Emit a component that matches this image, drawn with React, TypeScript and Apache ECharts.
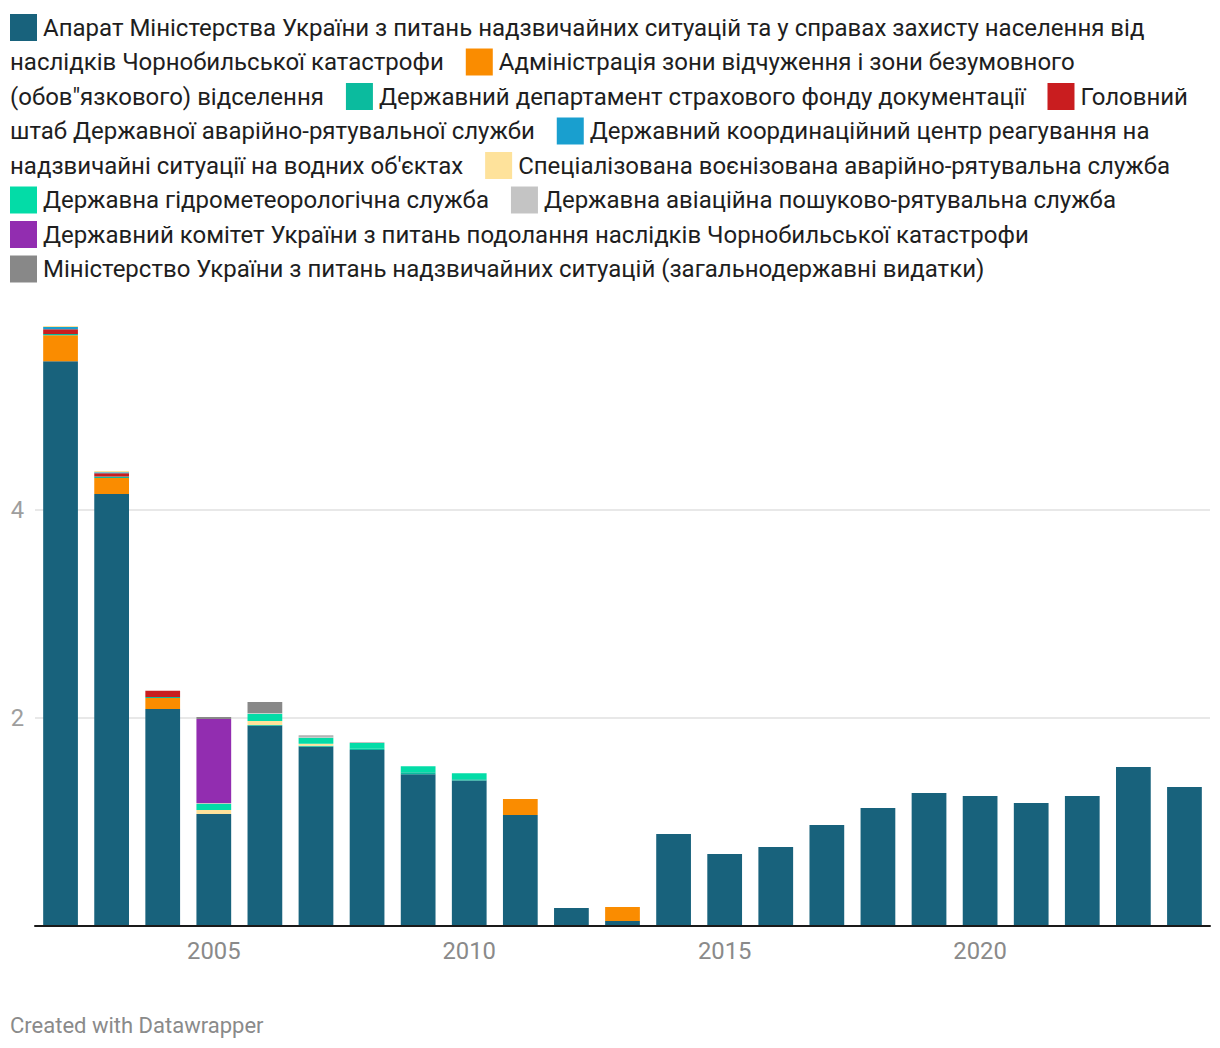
import React, { useEffect, useRef } from "react";
import * as echarts from "echarts";

const years = [
  "2002", "2003", "2004", "2005", "2006", "2007", "2008", "2009", "2010", "2011", "2012", "2013",
  "2014", "2015", "2016", "2017", "2018", "2019", "2020", "2021", "2022", "2023", "2024",
];

const seriesNames = [
  "Апарат Міністерства України з питань надзвичайних ситуацій та у справах захисту населення від наслідків Чорнобильської катастрофи",
  "Адміністрація зони відчуження і зони безумовного (обов\"язкового) відселення",
  "Державний департамент страхового фонду документації",
  "Головний штаб Державної аварійно-рятувальної служби",
  "Державний координаційний центр реагування на надзвичайні ситуації на водних об'єктах",
  "Спеціалізована воєнізована аварійно-рятувальна служба",
  "Державна гідрометеорологічна служба",
  "Державна авіаційна пошуково-рятувальна служба",
  "Державний комітет України з питань подолання наслідків Чорнобильської катастрофи",
  "Міністерство України з питань надзвичайних ситуацій (загальнодержавні видатки)",
];

const seriesColors = [
  "#18627c", "#fa8c00", "#0bbb9e", "#c91d1f", "#199fcf",
  "#fee29b", "#03dca7", "#c4c4c4", "#922db0", "#888888",
];

const apparat = [5.43, 4.154, 2.087, 1.077, 1.926, 1.724, 1.692, 1.46, 1.4, 1.067, 0.173, 0.048, 0.885, 0.692, 0.76, 0.971, 1.135, 1.279, 1.25, 1.183, 1.25, 1.529, 1.337];
const adminZone = [0.25, 0.154, 0.106, 0, 0, 0, 0, 0, 0, 0.154, 0, 0.135, 0, 0, 0, 0, 0, 0, 0, 0, 0, 0, 0];
const insuranceFund = [0.013, 0.013, 0.01, 0, 0.007, 0.01, 0.013, 0.019, 0.01, 0, 0, 0, 0, 0, 0, 0, 0, 0, 0, 0, 0, 0, 0];
const headquarters = [0.045, 0.033, 0.058, 0, 0, 0, 0, 0, 0, 0, 0, 0, 0, 0, 0, 0, 0, 0, 0, 0, 0, 0, 0];
const waterCenter = [0.022, 0.01, 0, 0, 0, 0, 0, 0, 0, 0, 0, 0, 0, 0, 0, 0, 0, 0, 0, 0, 0, 0, 0];
const paramilitary = [0.01, 0.01, 0, 0.038, 0.038, 0.019, 0, 0, 0, 0, 0, 0, 0, 0, 0, 0, 0, 0, 0, 0, 0, 0, 0];
const hydromet = [0, 0, 0, 0.058, 0.07, 0.058, 0.055, 0.058, 0.058, 0, 0, 0, 0, 0, 0, 0, 0, 0, 0, 0, 0, 0, 0];
const aviation = [0, 0, 0, 0.01, 0.006, 0.01, 0.01, 0, 0, 0, 0, 0, 0, 0, 0, 0, 0, 0, 0, 0, 0, 0, 0];
const chornobylCommittee = [0, 0, 0, 0.808, 0, 0, 0, 0, 0, 0, 0, 0, 0, 0, 0, 0, 0, 0, 0, 0, 0, 0, 0];
const ministryGeneral = [0, 0, 0, 0.019, 0.106, 0.01, 0, 0, 0, 0, 0, 0, 0, 0, 0, 0, 0, 0, 0, 0, 0, 0, 0];

const seriesValues = [
  apparat, adminZone, insuranceFund, headquarters, waterCenter,
  paramilitary, hydromet, aviation, chornobylCommittee, ministryGeneral,
];

const yMin = 0;
const yMax = 6;
const yInterval = 2;
const yLabelValues = [2, 4];
const xLabelEvery = 5;
const footerText = "Created with Datawrapper";

const FONT = "Roboto";
const LEGEND_SIZE = 24;
const AXIS_SIZE = 23.8;

function buildLegend(): any[] {
  const canvas = document.createElement("canvas");
  const ctx = canvas.getContext("2d")!;
  ctx.font = `${LEGEND_SIZE}px ${FONT}`;
  const m = (s: string) => ctx.measureText(s).width;
  const els: any[] = [];
  const left = 10;
  const right = 1210;
  const box = 27;
  const boxGap = 6;
  const itemGap = 22;
  const top = 27.5;
  const lineH = 34.5;
  let line = 0;
  let x = left;
  const cy = () => top + line * lineH;
  const txt = (s: string, tx: number, ty: number) => ({
    type: "text",
    x: tx,
    y: ty,
    style: {
      text: s,
      fill: "#1e1e1e",
      fontSize: LEGEND_SIZE,
      fontFamily: FONT,
      verticalAlign: "middle",
      textVerticalAlign: "middle",
    },
  });
  seriesNames.forEach((name, i) => {
    const words = name.split(" ");
    if (i > 0) {
      x += itemGap;
      if (x + box + boxGap + m(words[0]) > right) {
        line++;
        x = left;
      }
    }
    els.push({
      type: "rect",
      shape: { x, y: cy() - box / 2, width: box, height: box },
      style: { fill: seriesColors[i] },
    });
    x += box + boxGap;
    let seg = "";
    let segX = x;
    for (const w of words) {
      const cand = seg ? seg + " " + w : w;
      if (seg && segX + m(cand) > right) {
        els.push(txt(seg, segX, cy()));
        line++;
        segX = left;
        seg = w;
      } else {
        seg = cand;
      }
    }
    els.push(txt(seg, segX, cy()));
    x = segX + m(seg);
  });
  return els;
}

export default function App() {
  const ref = useRef<HTMLDivElement>(null);
  useEffect(() => {
    document.body.style.margin = "0";
    if (!ref.current) return;
    const chart = echarts.init(ref.current, undefined, { renderer: "svg" });
    const gridColors = ["rgba(0,0,0,0)", "#e8e8e8", "#e8e8e8", "rgba(0,0,0,0)"];
    chart.setOption({
      animation: false,
      backgroundColor: "#ffffff",
      textStyle: { fontFamily: FONT },
      legend: { show: false },
      grid: { left: 35, right: 10, top: 302, bottom: 122, containLabel: false },
      xAxis: {
        type: "category",
        data: years,
        axisTick: { show: false },
        axisLine: { lineStyle: { color: "#1a1a1a", width: 2 } },
        axisLabel: {
          interval: (idx: number, val: string) => Number(val) % xLabelEvery === 0,
          color: "#8a8a8a",
          fontSize: AXIS_SIZE,
          fontFamily: FONT,
          margin: 13,
        },
        z: 10,
      },
      yAxis: {
        type: "value",
        min: yMin,
        max: yMax,
        interval: yInterval,
        axisLine: { show: false },
        axisTick: { show: false },
        splitLine: { lineStyle: { color: gridColors, width: 2 } },
        axisLabel: {
          formatter: (v: number) => (yLabelValues.includes(v) ? String(v) : ""),
          color: "#9e9e9e",
          fontSize: AXIS_SIZE,
          fontFamily: FONT,
          margin: 11,
        },
      },
      series: seriesNames.map((name, i) => ({
        name,
        type: "bar",
        stack: "total",
        barWidth: "68%",
        itemStyle: { color: seriesColors[i] },
        data: seriesValues[i],
      })),
      graphic: [
        ...buildLegend(),
        {
          type: "text",
          x: 10,
          y: 1025,
          style: {
            text: footerText,
            fill: "#8a8a8a",
            fontSize: 22,
            fontFamily: FONT,
            verticalAlign: "middle",
            textVerticalAlign: "middle",
          },
        },
      ],
    });
    return () => chart.dispose();
  }, []);
  return (
    <div
      ref={ref}
      style={{ position: "absolute", left: 0, top: 0, width: 1220, height: 1048 }}
    />
  );
}
